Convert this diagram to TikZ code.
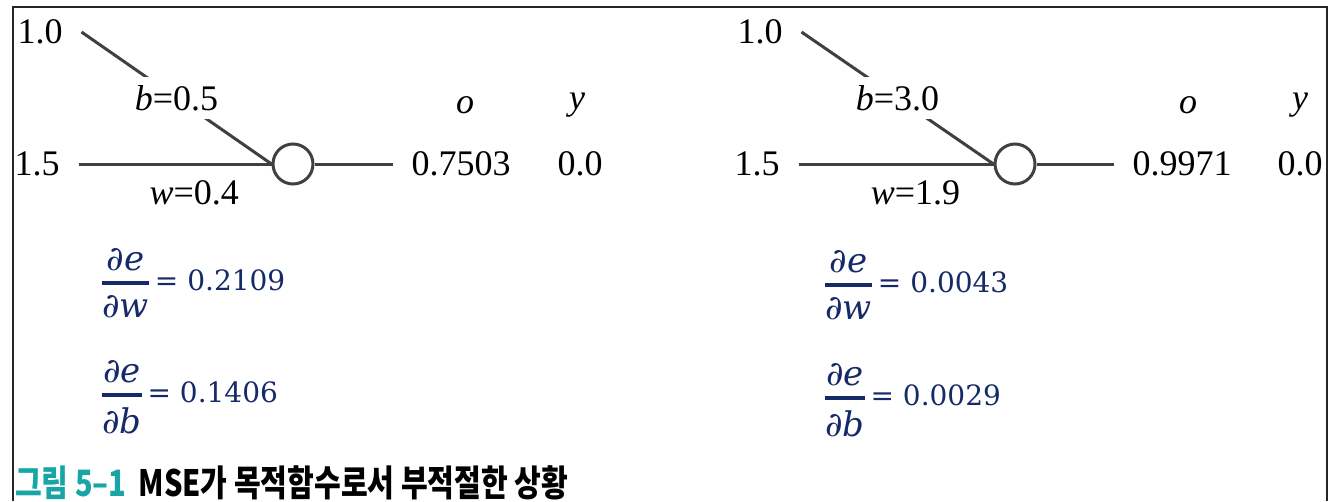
\RequirePackage{fix-cm}
\documentclass[tikz,border=0pt]{standalone}
\usepackage{amsmath}
\usepackage{fontspec}
\setmainfont{Liberation Serif}
\newfontfamily\eqfont{DejaVu Serif}
\newfontfamily\krfont[FakeStretch=0.8]{Noto Sans CJK KR}
\usepackage{xcolor}
\usetikzlibrary{positioning}

\definecolor{wiregray}{RGB}{64,64,64}
\definecolor{eqblue}{RGB}{22,42,105}
\definecolor{capteal}{RGB}{25,165,165}

\newcommand{\gradpart}[1]{\mbox{\fontsize{34}{38}\selectfont\itshape ∂#1}}
\newcommand{\gradfrac}[1]{\genfrac{}{}{3.5pt}{0}{\gradpart{e}}{\gradpart{#1}}}

\begin{document}
\begin{tikzpicture}[x=1pt, y=-1pt,
	num/.style={font=\fontsize{36}{40}\selectfont, inner sep=0pt},
	pin/.style={num, outer sep=19pt},
	wire/.style={line width=3pt, draw=wiregray},
	unit/.style={circle, draw=wiregray, line width=3pt, minimum size=40pt, inner sep=0pt},
	grad/.style={font=\eqfont\fontsize{28}{32}\selectfont, text=eqblue, anchor=west, inner sep=0pt}]
	\useasboundingbox (0,0) rectangle (1343,501);

	% Frame
	\draw[line width=2pt, black!85] (13,501) -- (13,7) -- (1327,7) -- (1327,501);

	% Left neuron: b=0.5, w=0.4
	\node[pin] (inA1) at (40,32) {1.0};
	\node[pin] (inA2) at (37,164) {1.5};
	\node[unit] (neuronA) at (293,164) {};
	\node[pin] (outA) at (461,164) {0.7503};
	\node[num] (tgtA) at (580,164) {0.0};
	\node[num] (ohdA) at (465,105) {\textit{o}};
	\node[num] (yhdA) at (577,105) {\textit{y}};

	\draw[wire] (inA1.east) -- node[num, fill=white, inner sep=8pt] (biasA) {\textit{b}=0.5} (neuronA.west);
	\draw[wire] (inA2.east) -- node[num, below=15pt, pos=0.6] (wgtA) {\textit{w}=0.4} (neuronA.west);
	\draw[wire] (neuronA.east) -- (outA.west);

	% Left gradients
	\node[grad] (dwA) at (101,283) {$\gradfrac{w}$\,= 0.2109};
	\node[grad] (dbA) at (101,397) {$\gradfrac{b}$\,= 0.1406};

	% Right neuron: b=3.0, w=1.9
	\node[pin] (inB1) at (760,32) {1.0};
	\node[pin] (inB2) at (757,164) {1.5};
	\node[unit] (neuronB) at (1015,164) {};
	\node[pin] (outB) at (1182,164) {0.9971};
	\node[num] (tgtB) at (1300,164) {0.0};
	\node[num] (ohdB) at (1188,105) {\textit{o}};
	\node[num] (yhdB) at (1300,105) {\textit{y}};

	\draw[wire] (inB1.east) -- node[num, fill=white, inner sep=8pt] (biasB) {\textit{b}=3.0} (neuronB.west);
	\draw[wire] (inB2.east) -- node[num, below=15pt, pos=0.6] (wgtB) {\textit{w}=1.9} (neuronB.west);
	\draw[wire] (neuronB.east) -- (outB.west);

	% Right gradients
	\node[grad] (dwB) at (824,285) {$\gradfrac{w}$\,= 0.0043};
	\node[grad] (dbB) at (824,400) {$\gradfrac{b}$\,= 0.0029};

	% Caption
	\node[anchor=west, inner sep=0pt, font=\krfont\bfseries\fontsize{36.3}{42}\selectfont] (caption) at (15,483)
		{\textcolor{capteal}{그림 5–1}\hspace{12pt}MSE가 목적함수로서 부적절한 상황};
\end{tikzpicture}
\end{document}
